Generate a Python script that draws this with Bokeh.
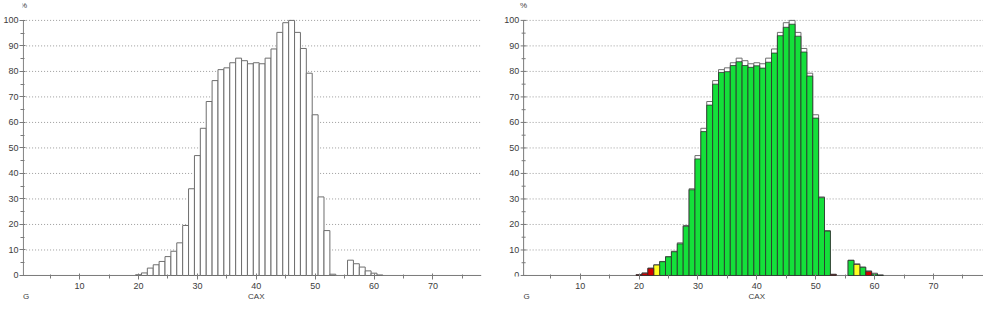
from bokeh.plotting import figure
from bokeh.models import Range1d, FixedTicker, Legend, LegendItem, LinearAxis
from bokeh.core.properties import value
from bokeh.embed import file_html
from bokeh.resources import INLINE

# ---- data -------------------------------------------------------------
cax = list(range(20, 62))  # bin centres (CAX)
reference = [0.3, 1.0, 2.9, 4.2, 5.5, 7.4, 9.5, 12.8, 19.6, 34.0,
             47.0, 57.7, 68.2, 76.4, 80.7, 81.4, 83.4, 85.2, 84.2, 83.0,
             83.4, 83.0, 85.2, 88.8, 95.3, 99.1, 100.0, 95.3, 89.0, 79.3,
             63.0, 30.8, 17.6, 0.5, 0.0, 0.0, 6.0, 4.6, 3.3, 1.8,
             0.9, 0.2]
current = [0.3, 0.9, 2.8, 4.1, 5.4, 7.3, 9.3, 12.4, 19.3, 33.6,
           45.7, 56.4, 66.8, 75.0, 79.6, 79.9, 82.3, 83.8, 82.3, 81.6,
           82.2, 81.3, 83.6, 87.2, 94.0, 97.3, 98.5, 93.8, 87.6, 78.2,
           61.7, 30.5, 17.4, 0.4, 0.0, 0.0, 5.9, 4.3, 3.2, 1.6,
           0.6, 0.1]
status = ["Alarm", "Alarm", "Alarm", "Warning"] + ["OK"] * 29 + ["Alarm"] + \
         ["OK"] * 3 + ["Warning", "OK", "Alarm", "OK", "OK"]
legend_labels = ["OK", "Warning Zone", "Alarm Zone", "Reference Level"]
x_ticks = [10, 20, 30, 40, 50, 60, 70]
x_minor = [5, 15, 25, 35, 45, 55, 65, 75]
y_ticks = [0, 10, 20, 30, 40, 50, 60, 70, 80, 90, 100]
y_minor = [5, 15, 25, 35, 45, 55, 65, 75, 85, 95]

# ---- layout constants (two panels share one Bokeh figure) -------------
OFF = 85          # x offset of the right-hand panel
X0 = 0.4          # where each panel's axes start
X_END_L = 78.2    # end of the left panel's axis
X_END = 163.5     # end of the figure's x range
FONT = "Liberation Sans"
TXT = "#3c3c3c"
AX = "#7a7a7a"
COLORS = {"OK": "#14e03a", "Warning": "#ffff22", "Alarm": "#d00000"}

p = figure(width=983, height=317, title=None,
           x_range=Range1d(0.3, X_END), y_range=Range1d(-0.4, 107.8),
           output_backend="svg", toolbar_location=None,
           min_border_left=19, min_border_right=0,
           min_border_top=0, min_border_bottom=41)
p.outline_line_color = None
p.xgrid.visible = False
p.ygrid.visible = False

# Bokeh x axis: ticks for both panels
xa = p.xaxis[0]
xa.ticker = FixedTicker(ticks=x_ticks + [t + OFF for t in x_ticks],
                        minor_ticks=x_minor + [t + OFF for t in x_minor])
xa.major_label_overrides = {t + OFF: str(t) for t in x_ticks}
ya = p.yaxis[0]
ya.ticker = FixedTicker(ticks=y_ticks, minor_ticks=y_minor)
for ax in (xa, ya):
    ax.axis_line_color = None
    ax.major_tick_line_color = AX
    ax.minor_tick_line_color = AX
    ax.major_tick_in = 3
    ax.major_tick_out = 3
    ax.minor_tick_in = 2
    ax.minor_tick_out = 2
    ax.major_label_text_font = FONT
    ax.major_label_text_font_size = "9px"
    ax.major_label_text_color = TXT
ya.major_label_standoff = 1
xa.major_label_standoff = 3

# second row of labels under the axis: "CAX" under 40, "G" under 0
lab_ticks = [0.9, 40, OFF + 0.9, OFF + 40]
ax2 = LinearAxis(ticker=FixedTicker(ticks=lab_ticks, minor_ticks=[]),
                 major_label_overrides={0.9: "G", 40: "CAX", OFF + 0.9: "G", OFF + 40: "CAX"},
                 axis_line_color=None, major_tick_line_color=None,
                 minor_tick_line_color=None, major_tick_in=0, major_tick_out=0,
                 major_label_standoff=0, major_label_text_font=FONT,
                 major_label_text_font_size="8px", major_label_text_color=TXT)
p.add_layout(ax2, "below")

# dotted gridlines per panel
gy = y_ticks[1:]
for xs, xe in ((X0, X_END_L), (OFF + X0, X_END)):
    p.segment(x0=[xs] * len(gy), y0=gy, x1=[xe] * len(gy), y1=gy,
              line_color="#9c9c9c", line_dash="1 2", line_width=1)

# axis lines for both panels
p.segment(x0=[X0 + 0.05, OFF + X0, X0, OFF + X0],
          y0=[0, 0, 0, 0],
          x1=[X0 + 0.05, OFF + X0, X_END_L, X_END],
          y1=[100, 100, 0, 0], line_color=AX, line_width=1)

# right panel y ticks and labels
rx = OFF + X0
p.segment(x0=[rx - 0.5] * len(y_ticks), y0=y_ticks, x1=[rx + 0.5] * len(y_ticks),
          y1=y_ticks, line_color=AX)
p.segment(x0=[rx - 0.34] * len(y_minor), y0=y_minor, x1=[rx + 0.34] * len(y_minor),
          y1=y_minor, line_color=AX)
p.text(x=[rx - 0.75] * len(y_ticks), y=y_ticks, text=[str(t) for t in y_ticks],
       text_align="right", text_baseline="middle", text_font=value(FONT),
       text_font_size="9px", text_color=TXT)

# "%" unit labels above each y axis
p.text(x=[X0 + 0.1, OFF + X0], y=[105.9, 105.9], text=["%", "%"],
       text_align="center", text_baseline="middle", text_font=value(FONT),
       text_font_size="8px", text_color=TXT)

# bars
ref_x = [x for x, v in zip(cax, reference) if v > 0]
ref_v = [v for v in reference if v > 0]
r_ref_l = p.vbar(x=ref_x, top=ref_v, width=1, fill_color="white",
                 line_color="#6e6e6e", line_width=1)
r_ref_r = p.vbar(x=[x + OFF for x in ref_x], top=ref_v, width=1, fill_color="white",
                 line_color="#6e6e6e", line_width=1)
rends = {}
for kind in ("OK", "Warning", "Alarm"):
    xs = [x + OFF for x, v, s in zip(cax, current, status) if s == kind and v > 0]
    ts = [v for v, s in zip(current, status) if s == kind and v > 0]
    rends[kind] = p.vbar(x=xs, top=ts, width=1, fill_color=COLORS[kind],
                         line_color="#2e2e2e", line_width=0.8)


def make_legend(ref_renderer, loc):
    items = [LegendItem(label=legend_labels[0], renderers=[rends["OK"]]),
             LegendItem(label=legend_labels[1], renderers=[rends["Warning"]]),
             LegendItem(label=legend_labels[2], renderers=[rends["Alarm"]]),
             LegendItem(label=legend_labels[3], renderers=[ref_renderer])]
    return Legend(items=items, orientation="horizontal", location=loc,
                  glyph_width=8, glyph_height=8, label_standoff=8, spacing=18,
                  padding=2, margin=0, border_line_color=None,
                  background_fill_alpha=0, label_text_font=FONT, label_height=8,
                  label_text_font_size="7px", label_text_color=TXT)


p.add_layout(make_legend(r_ref_l, (98, -40)))
p.add_layout(make_legend(r_ref_r, (601, -40)))

open("out.html", "w").write(file_html(p, INLINE))
